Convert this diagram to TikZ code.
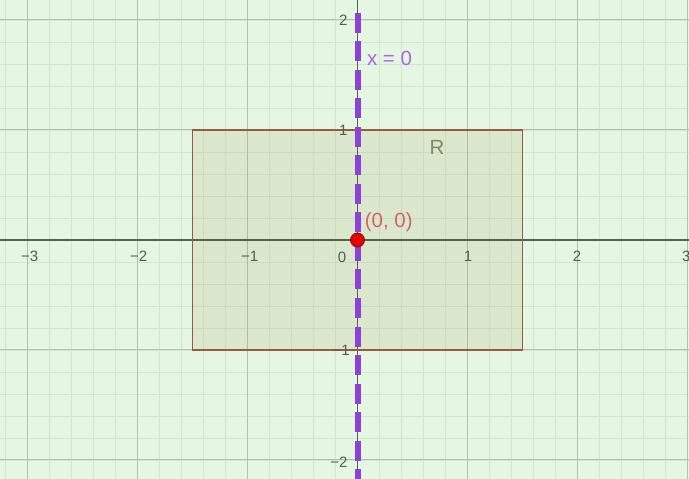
\documentclass[tikz,border=0pt]{standalone}
\usepackage{fontspec}
\setmainfont{Liberation Sans}
\definecolor{bg}{RGB}{229,246,227}
\definecolor{minorgrid}{RGB}{210,230,208}
\definecolor{majorgrid}{RGB}{176,194,176}
\definecolor{axiscol}{RGB}{80,100,80}
\definecolor{rectborder}{RGB}{150,92,60}
\definecolor{rectfill}{RGB}{170,165,100}
\definecolor{dashpurple}{RGB}{140,65,215}
\definecolor{labpurple}{RGB}{165,105,220}
\definecolor{pointred}{RGB}{230,0,0}
\definecolor{pointedge}{RGB}{120,20,20}
\definecolor{labred}{RGB}{210,100,100}
\definecolor{labR}{RGB}{135,135,95}
\definecolor{ticklab}{RGB}{85,92,85}
\begin{document}
\begin{tikzpicture}[x=110pt,y=110pt,
  ticklab/.style={text=ticklab,font=\fontsize{15}{15}\selectfont,inner sep=0pt},
  biglab/.style={font=\fontsize{20.5}{20.5}\selectfont,inner sep=0pt}]
\useasboundingbox (-3.25,-2.1727) rectangle (3.0136,2.1818);
\fill[bg] (-3.25,-2.1727) rectangle (3.0136,2.1818);
\begin{scope}
\clip (-3.25,-2.1727) rectangle (3.0136,2.1818);
\draw[minorgrid,line width=0.8pt,step=0.2] (-3.4,-2.4) grid (3.2,2.4);
\draw[majorgrid,line width=1pt,step=1] (-4,-3) grid (4,3);
\end{scope}
% region R
\fill[rectfill,fill opacity=0.17] (-1.5,-1) rectangle (1.5,1);
% axes
\draw[axiscol,line width=1.4pt] (-3.25,0) -- (3.0136,0);
\draw[axiscol,line width=1.2pt] (0,-2.1727) -- (0,2.1818);
\draw[rectborder,line width=1.8pt] (-1.5,-1) rectangle (1.5,1);
% line x = 0
\draw[dashpurple,line width=6pt,dash pattern=on 20pt off 8.5pt] (0,2.0636) -- (0,-2.1727);
% tick labels
\node[ticklab] (xm3) at (-2.98,-0.145) {−3};
\node[ticklab] (xm2) at (-1.99,-0.145) {−2};
\node[ticklab] (xm1) at (-0.98,-0.145) {−1};
\node[ticklab] (x0) at (-0.14,-0.155) {0};
\node[ticklab] (x1) at (1.005,-0.145) {1};
\node[ticklab] (x2) at (1.995,-0.145) {2};
\node[ticklab] (x3) at (2.99,-0.145) {3};
\node[ticklab,anchor=east] (y2) at (-0.09,2.0) {2};
\node[ticklab,anchor=east] (y1) at (-0.09,1.0) {1};
\node[ticklab,anchor=east] (ym1) at (-0.07,-1.0) {−1};
\node[ticklab,anchor=east] (ym2) at (-0.09,-2.02) {−2};
% point
\node[circle,fill=pointred,draw=pointedge,line width=0.8pt,minimum size=14pt,inner sep=0pt] (p) at (0,0) {};
% labels
\node[biglab,text=labred,anchor=west] (plab) at (0.065,0.16) {(0, 0)};
\node[biglab,text=labpurple,anchor=west] (llab) at (0.085,1.65) {x = 0};
\node[biglab,text=labR] (rlab) at (0.723,0.845) {R};
\end{tikzpicture}
\end{document}
